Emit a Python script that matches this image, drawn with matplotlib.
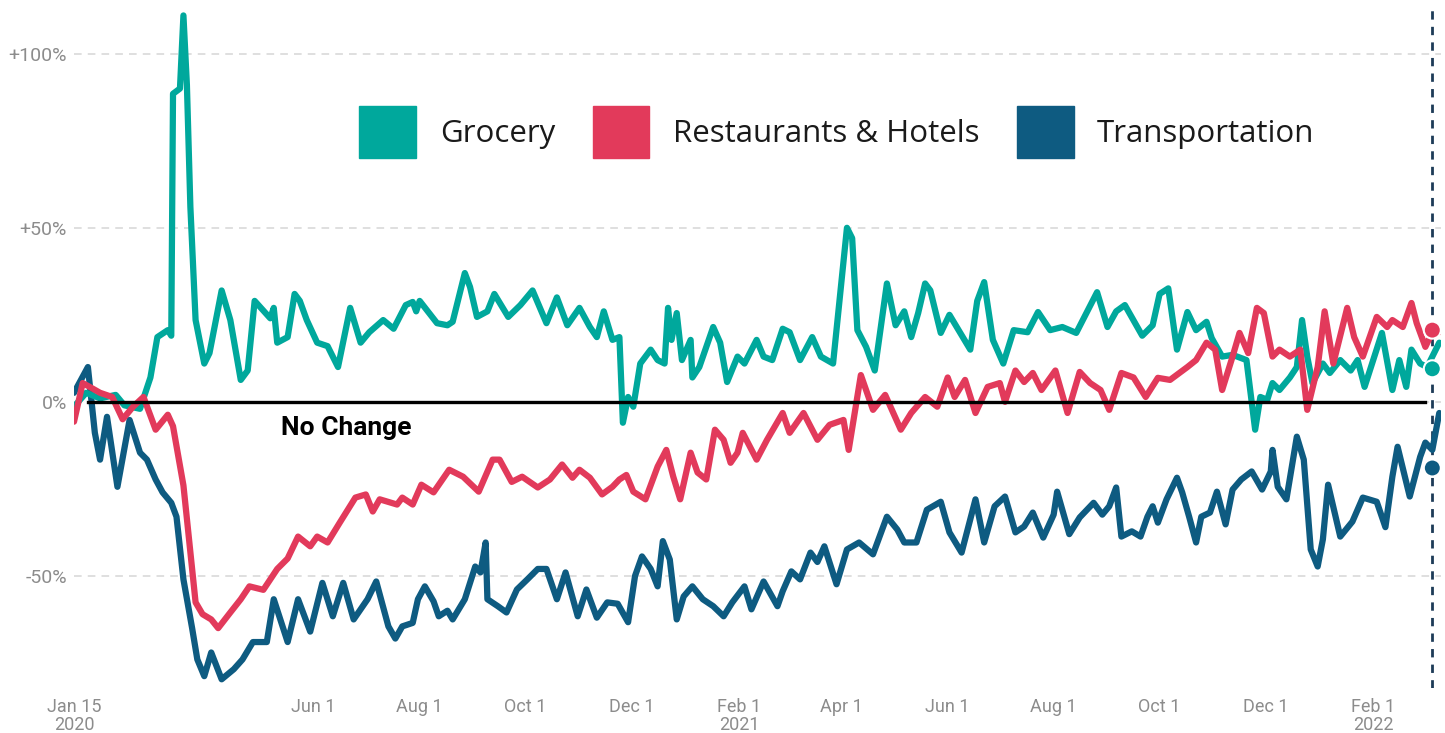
import matplotlib
matplotlib.use('Agg')
import matplotlib.pyplot as plt
from matplotlib.patches import Patch
import pandas as pd

# days since Jan 15 2020 , % change vs. baseline
start = pd.Timestamp('2020-01-15')

grocery = [(0, -1.4), (7, 2.6), (15, 1), (24, 2), (29, -1), (38, -2), (44, 7), (48, 18.6),
           (54, 20.6), (56, 19), (57, 88.5), (61, 90), (63, 111), (65, 91), (67, 56), (70, 23.5),
           (75, 11), (78, 14), (85, 32), (90, 23.5), (96, 6.3), (100, 9), (104, 29), (113, 24),
           (115, 27), (117, 17), (123, 18.6), (127, 31), (130, 29), (134, 23.5), (140, 17),
           (146, 16), (152, 10), (159, 27), (165, 17), (170, 20), (178, 23.5), (184, 21),
           (191, 27.8), (195, 28.7), (197, 26), (199, 29), (209, 22.6), (215, 22), (218, 23),
           (225, 37), (228, 33), (232, 24.4), (238, 26), (242, 31), (250, 24.4), (257, 27.8),
           (264, 32), (272, 22.6), (278, 30), (284, 22), (291, 27), (297, 21.5), (301, 18.6),
           (305, 26), (310, 17.8), (314, 18.6), (316, -6), (319, 1.4), (322, -1.4), (326, 11),
           (332, 15), (336, 12), (340, 11), (342, 27), (344, 17.8), (347, 25.5), (350, 12),
           (355, 17.8), (356, 7), (360, 10), (368, 21.5), (372, 17), (376, 5.7), (382, 13),
           (386, 11), (393, 17.8), (397, 13), (402, 12), (408, 21), (412, 20), (418, 12),
           (425, 18.6), (430, 13), (437, 11), (445, 50), (448, 47), (451, 20.6), (456, 15.8),
           (461, 9), (468, 34), (473, 22), (478, 26), (482, 18.6), (486, 25.5), (490, 34),
           (493, 32), (499, 19.8), (504, 25), (510, 20), (516, 15), (520, 29), (524, 34.4),
           (529, 17.8), (535, 11), (541, 20.6), (549, 20), (555, 25.8), (562, 20.6), (569, 21.5),
           (577, 19.8), (589, 31.5), (595, 21.5), (600, 26), (605, 27.8), (615, 19), (621, 22),
           (625, 31), (630, 32.6), (635, 15), (641, 25.8), (646, 20.6), (652, 23), (655, 18.3),
           (661, 13), (667, 13.5), (675, 12), (680, -8), (683, 1.4), (687, 0.6), (690, 5.4),
           (694, 3.4), (700, 7), (704, 10), (707, 23.5), (710, 13), (713, 5.4), (719, 11),
           (723, 8.3), (729, 12), (735, 9), (739, 12), (743, 4.3), (748, 12), (753, 19.8),
           (759, 3.4), (763, 12), (767, 4.3), (770, 15), (775, 11), (779, 10), (786, 17)]

restaurants = [(0, -5.7), (5, 5.4), (9, 4.3), (15, 2.6), (22, 1.4), (28, -5), (34, -1.4),
               (40, 1.4), (47, -8), (54, -3.7), (57, -7), (63, -24), (70, -57.6), (74, -61),
               (79, -62.5), (83, -65), (90, -60.5), (96, -56.7), (101, -53), (109, -54),
               (117, -48), (123, -45), (129, -38.7), (136, -41.5), (140, -38.7), (146, -40.4),
               (153, -34.7), (162, -27.5), (168, -26.6), (172, -31.5), (176, -28), (186, -29.5),
               (189, -27.5), (195, -29.5), (200, -23.8), (207, -26), (216, -19.5), (224, -21.5),
               (233, -25.8), (241, -16.6), (245, -16.6), (252, -23), (258, -21.5), (267, -24.6),
               (274, -22.3), (281, -18), (287, -21.8), (291, -19.5), (297, -21.8), (304, -26.6),
               (310, -24.4), (314, -22.3), (318, -21), (322, -25.8), (329, -28), (336, -18.6),
               (341, -13.8), (345, -21.5), (349, -28), (355, -14.6), (359, -20.3), (364, -22.3),
               (369, -8), (374, -10.9), (378, -17.5), (382, -14.6), (385, -8.9), (393, -16.6),
               (399, -10.9), (408, -3.2), (412, -8.9), (420, -3.2), (428, -10.9), (435, -6.6),
               (443, -5.2), (446, -13.8), (453, 7.7), (460, -2.3), (467, 2), (476, -8),
               (482, -3.2), (490, 1.4), (497, -1.4), (503, 7), (507, 1.4), (513, 6.3),
               (519, -3.2), (526, 4.3), (533, 5.4), (536, 0), (542, 9), (547, 5.7), (552, 8.3),
               (557, 3.4), (565, 9), (572, -3.2), (579, 8.6), (585, 5.4), (591, 3.4), (596, -2.3),
               (603, 8.3), (610, 7), (617, 1.4), (624, 6.9), (631, 6.3), (641, 10), (646, 12),
               (652, 17), (657, 15), (661, 3.4), (667, 13), (671, 19.8), (676, 14), (681, 27),
               (685, 25.5), (690, 13), (694, 15), (700, 13), (706, 15), (710, -2.3), (716, 10),
               (720, 26), (725, 11), (733, 27), (737, 18.6), (742, 13), (750, 24.4), (756, 21.5),
               (759, 23.5), (765, 21.5), (770, 28.4), (773, 22.6), (778, 15.8), (782, 20),
               (786, 20)]

transportation = [(0, 2.6), (8, 10), (12, -8.9), (15, -16.6), (19, -4.3), (25, -24.4),
                  (32, -5.2), (38, -14.6), (42, -16.6), (47, -22.3), (51, -26), (56, -29),
                  (59, -33), (63, -51), (68, -65), (71, -74), (75, -78.8), (79, -72),
                  (85, -79.7), (92, -76.8), (97, -74), (103, -69), (111, -69), (115, -56.7),
                  (123, -69), (129, -56.7), (136, -66), (143, -52), (149, -61.6), (155, -52),
                  (161, -62.5), (169, -56.7), (174, -51.6), (181, -64.5), (185, -68),
                  (189, -64.5), (195, -63.5), (198, -56.7), (202, -53), (207, -57.3),
                  (210, -61.6), (215, -60), (218, -62.5), (225, -56.7), (231, -47.3), (234, -49),
                  (237, -40.4), (238, -56.7), (244, -58.7), (249, -60.5), (255, -53.9),
                  (261, -51), (267, -48), (272, -48), (278, -56.7), (283, -49), (290, -61.6),
                  (295, -53.9), (301, -62), (307, -57.6), (313, -58), (319, -63.3), (323, -50),
                  (327, -44.4), (332, -48), (336, -53), (339, -40), (343, -45.3), (347, -62.5),
                  (351, -55.9), (356, -53), (362, -56.7), (368, -58.7), (374, -61.6),
                  (379, -57.6), (386, -53), (390, -59.6), (397, -51.6), (405, -58.7),
                  (408, -54.4), (413, -48.7), (418, -51), (424, -43.3), (428, -46), (432, -41.5),
                  (439, -52.4), (445, -42.4), (452, -40.4), (460, -43.8), (468, -33),
                  (474, -36.7), (478, -40.4), (485, -40.4), (491, -31), (499, -28.7),
                  (504, -37.5), (511, -43.3), (519, -28), (524, -40.4), (530, -30), (536, -27.2),
                  (542, -37.5), (547, -35.8), (552, -31.8), (558, -39), (564, -32.4),
                  (566, -25.8), (573, -38), (579, -33.2), (587, -29), (592, -32.4), (596, -30),
                  (600, -24.6), (603, -38.7), (609, -37.2), (614, -38.7), (618, -33), (621, -30),
                  (624, -34.7), (629, -28), (635, -21.8), (638, -26), (642, -33), (646, -40.4),
                  (649, -33), (654, -31.8), (658, -25.8), (663, -35.2), (667, -25.2),
                  (672, -22.3), (678, -20), (684, -25.2), (689, -20), (690, -13.8), (693, -24.4),
                  (698, -28), (704, -10), (708, -16.6), (712, -42.4), (716, -47.3), (719, -39.5),
                  (722, -23.8), (729, -38.7), (736, -34.4), (742, -27.5), (750, -28.7),
                  (755, -36), (759, -21.5), (762, -12.9), (769, -27.2), (775, -15.8),
                  (778, -11.7), (782, -13.8), (786, -3.2)]

# latest-value markers on the dashed line
last_day = 782
last_grocery = 9.5
last_restaurants = 20.6
last_transportation = -19.0

tick_dates = ['2020-01-15', '2020-06-01', '2020-08-01', '2020-10-01', '2020-12-01',
              '2021-02-01', '2021-04-01', '2021-06-01', '2021-08-01', '2021-10-01',
              '2021-12-01', '2022-02-01']
tick_labels = ['Jan 15\n2020', 'Jun 1', 'Aug 1', 'Oct 1', 'Dec 1', 'Feb 1\n2021', 'Apr 1',
               'Jun 1', 'Aug 1', 'Oct 1', 'Dec 1', 'Feb 1\n2022']
y_ticks = [-50, 0, 50, 100]
y_labels = ['-50%', '0%', '+50%', '+100%']

names = ['Grocery', 'Restaurants & Hotels', 'Transportation']
colors = ['#00a89c', '#e23a5b', '#0e5b81']


def to_dates(days):
    return start + pd.to_timedelta(days, unit='D')


plt.rcParams['font.family'] = ['Roboto', 'DejaVu Sans']

fig = plt.figure(figsize=(14.45, 7.33), dpi=100)
ax = fig.add_axes([74 / 1445, 45 / 733, 1367 / 1445, 683 / 733])

for spine in ax.spines.values():
    spine.set_visible(False)

ax.set_yticks(y_ticks)
ax.set_yticklabels(y_labels)
ax.yaxis.grid(True, color='#d6d6d6', lw=1.1, ls=(0, (5, 4)))
ax.set_axisbelow(True)

series = [grocery, restaurants, transportation]
order = [2, 0, 1]  # draw transportation first, restaurants on top
for i in order:
    d, v = zip(*series[i])
    ax.plot(to_dates(list(d)), v, color=colors[i], lw=4.5, solid_joinstyle='round',
            solid_capstyle='round', zorder=3 + order.index(i))

# no change line
ax.plot(to_dates([8, 778]), [0, 0], color='black', lw=2.4, zorder=8)
ax.text(to_dates([119])[0], -7.5, 'No Change', fontsize=19, fontweight='bold',
        ha='left', va='center', color='black', zorder=9)

# dashed marker for latest date
ax.axvline(to_dates([last_day])[0], color='#1d3b57', lw=2, ls=(0, (3, 2.6)), zorder=2)
ax.scatter([to_dates([last_day])[0]] * 3,
           [last_grocery, last_restaurants, last_transportation],
           s=150, c=colors, edgecolors='white', linewidths=1.5, zorder=10)

ax.set_xlim(start, to_dates([787])[0])
ax.set_ylim(-82.2, 114)
ax.set_xticks(pd.to_datetime(tick_dates))
ax.set_xticklabels(tick_labels, linespacing=1.0)
ax.tick_params(axis='both', length=0, colors='#8c8c8c')
ax.tick_params(axis='x', pad=7, labelsize=13)
ax.tick_params(axis='y', pad=5, labelsize=14)

handles = [Patch(facecolor=c, edgecolor=c) for c in colors]
fig.legend(handles, names, loc='center', bbox_to_anchor=(837 / 1445, 1 - 132 / 733),
           ncol=3, frameon=False, prop={'family': 'Open Sans', 'size': 22.5},
           handlelength=1.82, handleheight=2.17, handletextpad=0.75, columnspacing=1.2,
           labelcolor='#1a1a1a')

fig.savefig('out.png', dpi=100, facecolor='white')
